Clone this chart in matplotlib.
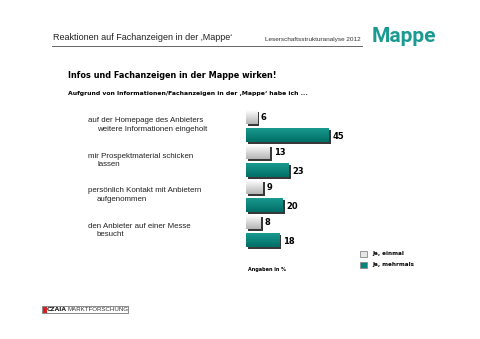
import numpy as np
import matplotlib
matplotlib.use("Agg")
import matplotlib.pyplot as plt
import matplotlib.patheffects as pe
from matplotlib.patches import Rectangle

# data
categories = [("auf der Homepage des Anbieters", "weitere Informationen eingeholt"),
              ("mir Prospektmaterial schicken", "lassen"),
              ("persönlich Kontakt mit Anbietern", "aufgenommen"),
              ("den Anbieter auf einer Messe", "besucht")]
einmal = [6, 13, 9, 8]
mehrmals = [45, 23, 20, 18]
series_names = ["Ja, einmal", "Ja, mehrmals"]

W, H = 480, 339
teal = "#00857c"
logo_teal = "#1a9a90"

def px(x, y):
    return x / W, 1 - y / H

fig = plt.figure(figsize=(4.8, 3.39), dpi=100)
fig.patch.set_facecolor("white")

# header
fig.text(*px(53, 38), "Reaktionen auf Fachanzeigen in der \u201aMappe\u2018", fontsize=6.45,
         family="Liberation Sans", color="#222222", va="center", ha="left")
fig.text(*px(361, 40), "Leserschaftsstrukturanalyse 2012", fontsize=4.6,
         family="Liberation Sans", color="#333333", va="center", ha="right")
fig.add_artist(plt.Line2D([52 / W, 362 / W], [1 - 45.5 / H, 1 - 45.5 / H],
                          color="#666666", lw=0.7))
fig.text(*px(372, 42), "Mappe", fontsize=15, fontweight="bold", color=logo_teal,
         va="baseline", ha="left", family=["Roboto", "DejaVu Sans"])

fig.text(*px(68, 75), "Infos und Fachanzeigen in der Mappe wirken!", fontsize=5.9,
         fontweight="bold", color="black", va="center", ha="left")
fig.text(*px(68, 94), "Aufgrund von Informationen/Fachanzeigen in der \u201aMappe\u2018 habe ich ...",
         fontsize=4.45, fontweight="bold", color="black", va="center", ha="left")

# bars
pitch = 35.0
top = 126 - 0.7 * pitch
ax = fig.add_axes([246 / W, 1 - (top + 4.4 * pitch) / H, 184 / W, 4.4 * pitch / H])
ax.set_xlim(0, 100)
ax.set_ylim(3.7, -0.7)
ax.axis("off")

y = np.arange(len(categories))
bh = 0.4
shadow = [pe.SimplePatchShadow(offset=(1.6, -1.6), shadow_rgbFace="#222222", alpha=0.9), pe.Normal()]

def grad_bars(vals, ypos, c_top, c_bot):
    bars = ax.barh(ypos, vals, height=bh, color=c_bot, edgecolor="none", zorder=2)
    grad = np.linspace(0, 1, 64).reshape(-1, 1)
    cmap = matplotlib.colors.LinearSegmentedColormap.from_list("g", [c_top, c_bot])
    for b in bars:
        b.set_path_effects(shadow)
        x0, y0 = b.get_x(), b.get_y()
        im = ax.imshow(grad, cmap=cmap, aspect="auto", zorder=3,
                       extent=[x0, x0 + b.get_width(), y0 + b.get_height(), y0])
        im.set_clip_path(b)
    return bars

grad_bars(einmal, y - 0.25, "#ffffff", "#b5b5b5")
grad_bars(mehrmals, y + 0.25, "#1a9a90", "#006e66")

for yi, v in zip(y - 0.25, einmal):
    ax.text(v + 2.0, yi, str(v), fontsize=6, fontweight="bold", va="center", ha="left")
for yi, v in zip(y + 0.25, mehrmals):
    ax.text(v + 2.0, yi + 0.05, str(v), fontsize=6, fontweight="bold", va="center", ha="left")

for i, (l1, l2) in enumerate(categories):
    fig.text(*px(88, 121 + i * pitch), l1, fontsize=5.7, color="#222222",
             family="Liberation Sans", va="center", ha="left")
    fig.text(*px(97, 129.5 + i * pitch), l2, fontsize=5.7, color="#222222",
             family="Liberation Sans", va="center", ha="left")

# legend
for k, (nm, fc) in enumerate(zip(series_names, ["#e6e6e6", teal])):
    fig.add_artist(Rectangle(px(360, 257 + k * 11), 6.5 / W, 6.5 / H, facecolor=fc,
                             edgecolor="#888888", lw=0.6))
    fig.text(*px(372, 253.5 + k * 11), nm, fontsize=4.1, fontweight="bold",
             va="center", ha="left")

fig.text(*px(248, 269), "Angaben in %", fontsize=3.5, fontweight="bold",
         va="center", ha="left")

# footer logo
fig.add_artist(Rectangle(px(42, 313), 86 / W, 7 / H, facecolor="none",
                         edgecolor="#777777", lw=0.6))
fig.add_artist(Rectangle(px(42.5, 312.5), 4 / W, 6 / H, facecolor="#d42020", edgecolor="none"))
fig.text(*px(47, 309.5), "CZAIA", fontsize=4.3, fontweight="bold", color="#222222",
         va="center", ha="left")
fig.text(*px(67.5, 309.5), "MARKTFORSCHUNG", fontsize=4.4, color="#333333",
         family="Liberation Sans", va="center", ha="left")

fig.savefig("out.png", dpi=100)
